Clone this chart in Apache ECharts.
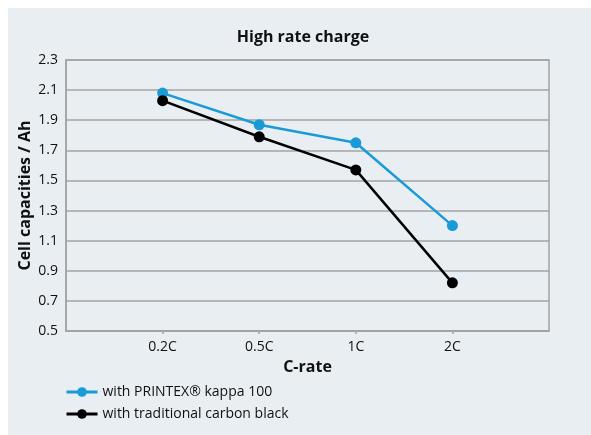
<!DOCTYPE html>
<html>
<head>
<meta charset="utf-8">
<script src="https://cdn.jsdelivr.net/npm/echarts@6/dist/echarts.min.js"></script>
<style>html,body{margin:0;padding:0;background:#fff}#c{width:591px;height:435px}</style>
</head>
<body>
<div id="c"></div>
<script>
const categories = ['', '0.2C', '0.5C', '1C', '2C', ''];
const pointCats = ['0.2C', '0.5C', '1C', '2C'];
const printexValues = [2.08, 1.87, 1.75, 1.20];
const carbonValues = [2.03, 1.79, 1.57, 0.82];
const seriesNames = ['with PRINTEX\u00AE kappa 100', 'with traditional carbon black'];
const yTicks = [0.5, 0.7, 0.9, 1.1, 1.3, 1.5, 1.7, 1.9, 2.1, 2.3];

const FONT = '"Open Sans"';
const chart = echarts.init(document.getElementById('c'), null, {renderer: 'canvas'});
const toPairs = vals => pointCats.map((c, i) => [c, vals[i]]);
chart.setOption({
  backgroundColor: '#ffffff',
  animation: false,
  graphic: [{
    type: 'rect', left: 8, top: 8, z: -10, silent: true,
    shape: {width: 583, height: 427},
    style: {fill: '#e9eef3'}
  }],
  title: {
    text: 'High rate charge', left: 303, top: 29, textAlign: 'center', padding: 0,
    textStyle: {fontFamily: FONT, fontWeight: 'bold', fontSize: 16, color: '#111'}
  },
  legend: {
    orient: 'vertical', left: 65, top: 385, itemWidth: 31, itemHeight: 12, itemGap: 8, padding: 0,
    data: seriesNames,
    lineStyle: {width: 3},
    textStyle: {fontFamily: FONT, fontSize: 14, color: '#111'}
  },
  grid: {
    left: 66, top: 60, right: 42, bottom: 104, show: true,
    borderColor: '#a3a3a3', borderWidth: 1.5, backgroundColor: 'transparent'
  },
  xAxis: {
    type: 'category', data: categories, boundaryGap: false,
    name: 'C-rate', nameLocation: 'middle', nameGap: 28, nameMoveOverlap: false,
    nameTextStyle: {fontFamily: FONT, fontWeight: 'bold', fontSize: 16, color: '#111'},
    axisLine: {lineStyle: {color: '#a3a3a3', width: 1.5}},
    axisTick: {interval: (i) => i >= 1 && i <= 4, length: 3, lineStyle: {color: '#a3a3a3', width: 1.5}},
    axisLabel: {interval: 0, margin: 9, fontFamily: FONT, fontSize: 14, color: '#111'},
    splitLine: {show: false}
  },
  yAxis: {
    type: 'value', min: yTicks[0], max: yTicks[yTicks.length - 1], interval: 0.2,
    name: 'Cell capacities / Ah', nameLocation: 'middle', nameGap: 33, nameRotate: 90, nameMoveOverlap: false,
    nameTextStyle: {fontFamily: FONT, fontWeight: 'bold', fontSize: 16, color: '#111'},
    axisLine: {show: true, lineStyle: {color: '#a3a3a3', width: 1.5}},
    axisTick: {show: false},
    axisLabel: {margin: 8, fontFamily: FONT, fontSize: 14, color: '#111', formatter: v => v.toFixed(1)},
    splitLine: {lineStyle: {color: '#a3a3a3', width: 1.5}}
  },
  series: [
    {
      name: seriesNames[0], type: 'line', data: toPairs(printexValues),
      symbol: 'circle', symbolSize: 11,
      lineStyle: {color: '#1a9bd7', width: 2.5}, itemStyle: {color: '#1a9bd7'}
    },
    {
      name: seriesNames[1], type: 'line', data: toPairs(carbonValues),
      symbol: 'circle', symbolSize: 11,
      lineStyle: {color: '#000000', width: 2.5}, itemStyle: {color: '#000000'}
    }
  ]
});
</script>
</body>
</html>
